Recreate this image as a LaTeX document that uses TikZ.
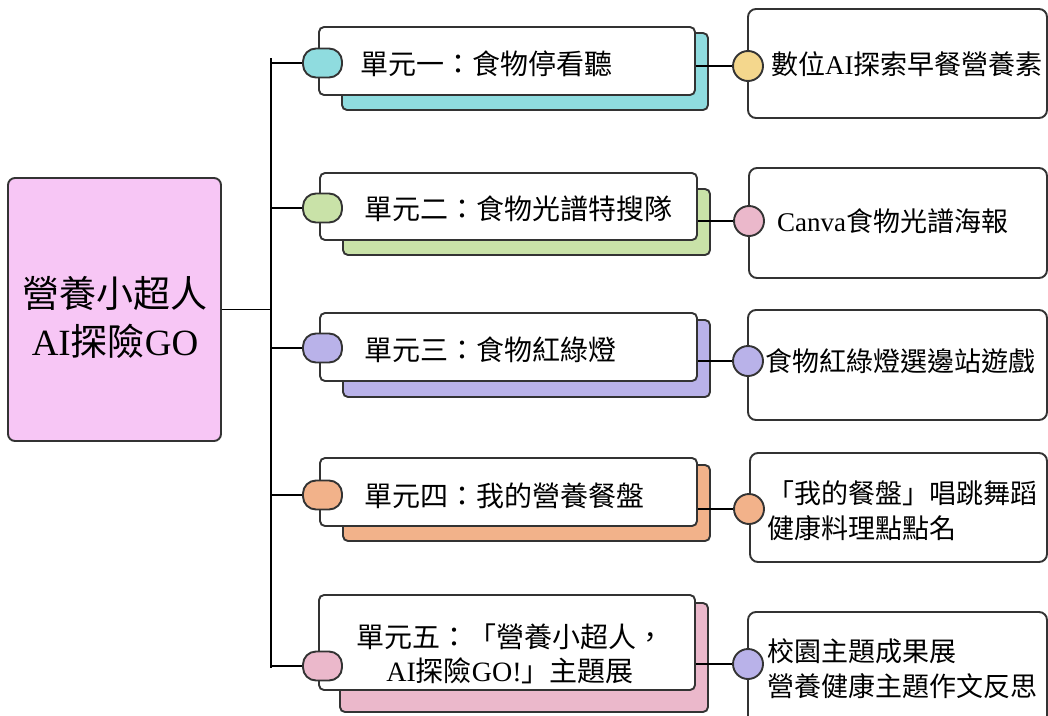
\documentclass[tikz,border=0pt]{standalone}
\usepackage{fontspec}
\setmainfont{Liberation Serif}
\newfontfamily\cjk{Noto Sans CJK TC}
\newcommand\zh[1]{{\cjk #1}}
\definecolor{rootpink}{HTML}{F7C6F5}
\definecolor{cteal}{HTML}{8FDCDF}
\definecolor{cgreen}{HTML}{C9E2A8}
\definecolor{clav}{HTML}{B9B2E9}
\definecolor{corange}{HTML}{F2B28A}
\definecolor{cpink}{HTML}{EBB8CB}
\definecolor{cyellow}{HTML}{F4D78D}
\definecolor{edge}{HTML}{333333}
\begin{document}
\begin{tikzpicture}[x=1pt,y=-1pt,
  outl/.style={draw=edge,line width=1.9pt},
  rootbox/.style={outl,fill=rootpink,rounded corners=7pt,minimum width=213pt,minimum height=263pt,inner sep=0pt,align=center,font=\fontsize{37}{48}\selectfont},
  shadowbox/.style={outl,rounded corners=5pt,inner sep=0pt},
  unitbox/.style={outl,fill=white,rounded corners=5pt,inner sep=0pt},
  capbox/.style={outl,rounded corners=13pt,minimum width=39pt,minimum height=29pt,inner sep=0pt},
  childbox/.style={outl,fill=white,rounded corners=8pt,inner sep=0pt},
  dotc/.style={outl,circle,minimum size=30pt,inner sep=0pt},
  utext/.style={anchor=west,inner sep=0pt,font=\fontsize{28}{34}\selectfont},
  ctext/.style={anchor=west,inner sep=0pt,align=left,font=\fontsize{27}{35}\selectfont},
  conn/.style={draw=black,line width=1.9pt}
]
\fill[white] (0,0) rectangle (1048,715);
\useasboundingbox (0,0) rectangle (1048,715);

% root
\node[rootbox] (root) at (114.5,309.5) {};
\node[inner sep=0pt,align=center,font=\fontsize{37}{48}\selectfont] (roott) at (115,317) {\zh{營養小超人}\\AI\zh{探險}GO};

% spine
\coordinate (sTop) at (271,58);
\coordinate (sBot) at (271,668);
\draw[conn] (sTop) -- (sBot);
\draw[conn] (root.east) -- (root.east -| sTop);

% shadows
\node[shadowbox,fill=cteal,minimum width=366pt,minimum height=77pt] (sh1) at (525,71.5) {};
\node[shadowbox,fill=cgreen,minimum width=367pt,minimum height=66pt] (sh2) at (526.5,222) {};
\node[shadowbox,fill=clav,minimum width=367pt,minimum height=77pt] (sh3) at (526.5,358.5) {};
\node[shadowbox,fill=corange,minimum width=367pt,minimum height=76pt] (sh4) at (526.5,503) {};
\node[shadowbox,fill=cpink,minimum width=368pt,minimum height=109pt] (sh5) at (524,657.5) {};

% unit boxes
\node[unitbox,minimum width=376pt,minimum height=68pt] (u1) at (507,61) {};
\node[unitbox,minimum width=377pt,minimum height=67pt] (u2) at (508.5,206.5) {};
\node[unitbox,minimum width=377pt,minimum height=68pt] (u3) at (508.5,347) {};
\node[unitbox,minimum width=377pt,minimum height=68pt] (u4) at (508.5,492) {};
\node[unitbox,minimum width=376pt,minimum height=95pt] (u5) at (507,642.5) {};

% caps
\coordinate (b1) at (322.5,63);
\coordinate (b2) at (322.5,208);
\coordinate (b3) at (322.5,348);
\coordinate (b4) at (322.5,495);
\coordinate (b5) at (322.5,666);
\draw[conn] (b1 -| sTop) -- (b1);
\draw[conn] (b2 -| sTop) -- (b2);
\draw[conn] (b3 -| sTop) -- (b3);
\draw[conn] (b4 -| sTop) -- (b4);
\draw[conn] (b5 -| sTop) -- (b5);
\node[capbox,fill=cteal] (c1) at (b1) {};
\node[capbox,fill=cgreen] (c2) at (b2) {};
\node[capbox,fill=clav] (c3) at (b3) {};
\node[capbox,fill=corange] (c4) at (b4) {};
\node[capbox,fill=cpink] (c5) at (b5) {};

% unit texts
\node[utext] (t1) at (360,64) {\zh{單元一：食物停看聽}};
\node[utext] (t2) at (364,209) {\zh{單元二：食物光譜特搜隊}};
\node[utext] (t3) at (364,350) {\zh{單元三：食物紅綠燈}};
\node[utext] (t4) at (364,496) {\zh{單元四：我的營養餐盤}};
\node[inner sep=0pt,align=center,font=\fontsize{28}{34}\selectfont] (t5) at (510,654) {\zh{單元五：「營養小超人，}\\AI\zh{探險}GO!\zh{」主題展}};

% child boxes
\node[childbox,minimum width=299pt,minimum height=109pt] (k1) at (897.5,63.5) {};
\node[childbox,minimum width=298pt,minimum height=110pt] (k2) at (898,223) {};
\node[childbox,minimum width=299pt,minimum height=110pt] (k3) at (897.5,365) {};
\node[childbox,minimum width=297pt,minimum height=109pt] (k4) at (898.5,507.5) {};
\node[childbox,minimum width=299pt,minimum height=128pt] (k5) at (897.5,676) {};

% circles
\node[dotc,fill=cyellow] (d1) at (748,66) {};
\node[dotc,fill=cpink] (d2) at (749,221) {};
\node[dotc,fill=clav] (d3) at (748,361) {};
\node[dotc,fill=corange] (d4) at (749,509) {};
\node[dotc,fill=clav] (d5) at (748,664) {};

% unit -> child connectors
\draw[conn] (d1.west -| u1.east) -- (d1.west);
\draw[conn] (d2.west -| u2.east) -- (d2.west);
\draw[conn] (d3.west -| u3.east) -- (d3.west);
\draw[conn] (d4.west -| u4.east) -- (d4.west);
\draw[conn] (d5.west -| u5.east) -- (d5.west);

% child texts
\node[ctext] (x1) at (771,64) {\zh{數位}AI\zh{探索早餐營養素}};
\node[ctext] (x2) at (777,221) {Canva\zh{食物光譜海報}};
\node[ctext] (x3) at (765,361) {\zh{食物紅綠燈選邊站遊戲}};
\node[ctext] (x4) at (767,511) {\zh{「我的餐盤」唱跳舞蹈}\\\zh{健康料理點點名}};
\node[ctext] (x5) at (767,669) {\zh{校園主題成果展}\\\zh{營養健康主題作文反思}};
\end{tikzpicture}
\end{document}
